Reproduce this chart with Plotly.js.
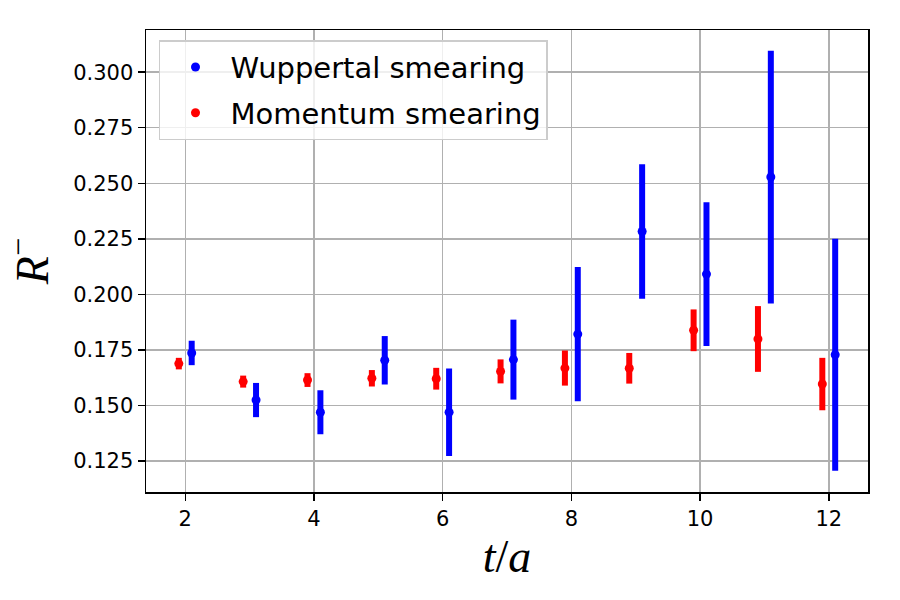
<!DOCTYPE html>
<html>
<head>
<meta charset="utf-8">
<script src="https://cdn.plot.ly/plotly-3.0.1.min.js"></script>
<style>html,body{margin:0;padding:0;background:#fff;}#chart{width:900px;height:600px;}</style>
</head>
<body>
<div id="chart"></div>
<script>
// t/a values
const tValues = [2, 3, 4, 5, 6, 7, 8, 9, 10, 11, 12];
const offset = 0.1;

// Wuppertal smearing
const wuppertalValues = [0.1736, 0.1524, 0.1469, 0.1703, 0.1469, 0.1706, 0.1821, 0.2283, 0.2091, 0.2528, 0.1728];
const wuppertalErrors = [0.0055, 0.0077, 0.0099, 0.0109, 0.0197, 0.0180, 0.0302, 0.0303, 0.0324, 0.0569, 0.0522];

// Momentum smearing
const momentumValues = [0.1688, 0.1607, 0.1614, 0.1622, 0.1620, 0.1653, 0.1668, 0.1667, 0.1838, 0.1799, 0.1596];
const momentumErrors = [0.0026, 0.0027, 0.0031, 0.0037, 0.0049, 0.0054, 0.0079, 0.0069, 0.0094, 0.0148, 0.0118];

const xTicks = [2, 4, 6, 8, 10, 12];
const yTicks = [0.125, 0.150, 0.175, 0.200, 0.225, 0.250, 0.275, 0.300];

const traces = [
  {
    x: tValues.map(t => t + offset),
    y: wuppertalValues,
    error_y: {type: 'data', array: wuppertalErrors, visible: true, color: '#0000ff', thickness: 6, width: 0},
    mode: 'markers',
    type: 'scatter',
    name: 'Wuppertal smearing',
    legendgroup: 'w',
    marker: {color: '#0000ff', size: 9}
  },
  {
    x: tValues.map(t => t - offset),
    y: momentumValues,
    error_y: {type: 'data', array: momentumErrors, visible: true, color: '#ff0000', thickness: 6, width: 0},
    mode: 'markers',
    type: 'scatter',
    name: 'Momentum smearing',
    legendgroup: 'm',
    marker: {color: '#ff0000', size: 9}
  }
];

const layout = {
  width: 900,
  height: 600,
  paper_bgcolor: '#ffffff',
  plot_bgcolor: '#ffffff',
  font: {family: 'DejaVu Sans', size: 21, color: '#000000'},
  margin: {l: 146, r: 32, t: 30, b: 108},
  showlegend: true,
  legend: {
    x: 0.018, y: 0.978, xanchor: 'left', yanchor: 'top',
    bgcolor: 'rgba(255,255,255,0.8)', bordercolor: '#cccccc', borderwidth: 1.5,
    itemwidth: 60,
    traceorder: 'grouped',
    tracegroupgap: 5,
    font: {family: 'DejaVu Sans', size: 29, color: '#000000'}
  },
  xaxis: {
    range: [1.39, 12.61],
    tickvals: xTicks,
    ticktext: xTicks.map(String),
    ticks: 'outside', ticklen: 7, tickwidth: 1.5, tickcolor: '#000000',
    showline: true, linecolor: '#000000', linewidth: 1.5, mirror: true,
    showgrid: true, gridcolor: '#b0b0b0', gridwidth: 1.5,
    zeroline: false,
    tickfont: {family: 'DejaVu Sans', size: 21},
    title: {text: '<i>t</i>/<i>a</i>', font: {family: 'Liberation Serif', size: 46}, standoff: 10}
  },
  yaxis: {
    range: [0.111, 0.319],
    tickvals: yTicks,
    ticktext: yTicks.map(v => v.toFixed(3)),
    ticks: 'outside', ticklen: 7, tickwidth: 1.5, tickcolor: '#000000',
    showline: true, linecolor: '#000000', linewidth: 1.5, mirror: true,
    showgrid: true, gridcolor: '#b0b0b0', gridwidth: 1.5,
    zeroline: false,
    tickfont: {family: 'DejaVu Sans', size: 21},
    title: {text: '<i>R</i><sup>−</sup>', font: {family: 'Liberation Serif', size: 46}, standoff: 18}
  }
};

Plotly.newPlot('chart', traces, layout, {displayModeBar: false, staticPlot: true});
</script>
</body>
</html>
